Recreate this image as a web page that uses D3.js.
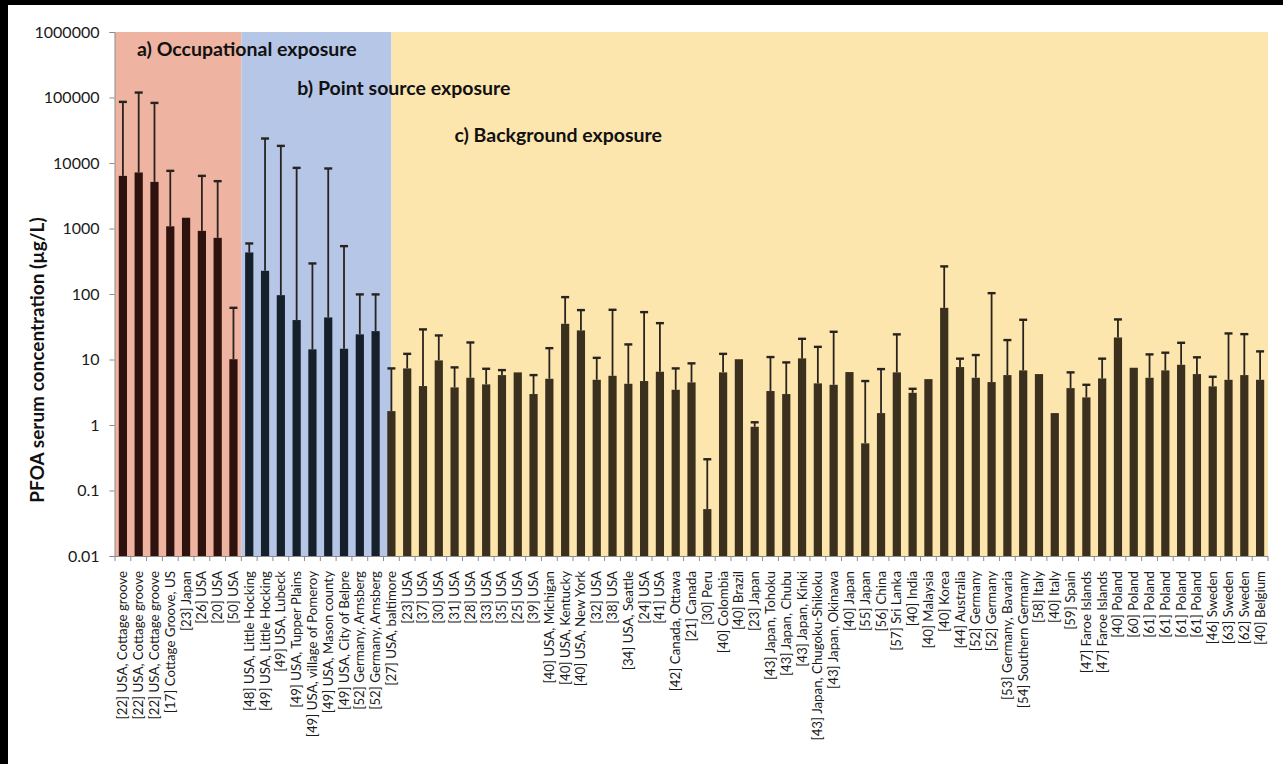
<!DOCTYPE html>
<html>
<head>
<meta charset="utf-8">
<script src="https://cdn.jsdelivr.net/npm/d3@7"></script>
<style>
  html, body { margin: 0; padding: 0; background: #ffffff; }
  svg { display: block; }
  text { font-family: Lato, "Open Sans", "DejaVu Sans", sans-serif; }
</style>
</head>
<body>
<svg id="chart" width="1283" height="764"></svg>
<script>
// ---- Study labels, grouped by exposure type ----
const occupationalLabels = [
  "[22] USA, Cottage groove", "[22] USA, Cottage groove", "[22] USA, Cottage groove",
  "[17] Cottage Groove, US", "[23] Japan", "[26] USA", "[20] USA", "[50] USA"
];
const pointSourceLabels = [
  "[48] USA, Little Hocking", "[49] USA, Little Hocking", "[49] USA, Lubeck",
  "[49] USA, Tupper Plains", "[49] USA, village of Pomeroy", "[49] USA, Mason county",
  "[49] USA, City of Belpre", "[52] Germany, Arnsberg", "[52] Germany, Arnsberg"
];
const backgroundLabels = [
  "[27] USA, baltimore", "[23] USA", "[37] USA", "[30] USA", "[31] USA", "[28] USA",
  "[33] USA", "[35] USA", "[25] USA", "[39] USA", "[40] USA, Michigan", "[40] USA, Kentucky",
  "[40] USA, New York", "[32] USA", "[38] USA", "[34] USA,  Seattle", "[24] USA", "[41] USA",
  "[42] Canada, Ottawa", "[21] Canada", "[30] Peru", "[40] Colombia", "[40] Brazil",
  "[23] Japan", "[43] Japan, Tohoku", "[43] Japan, Chubu", "[43] Japan, Kinki",
  "[43] Japan, Chugoku-Shikoku", "[43] Japan, Okinawa", "[40] Japan", "[55] Japan",
  "[56] China", "[57] Sri Lanka", "[40] India", "[40] Malaysia", "[40] Korea",
  "[44] Australia", "[52] Germany", "[52] Germany", "[53] Germany, Bavaria",
  "[54] Southern Germany", "[58] Italy", "[40] Italy", "[59] Spain",
  "[47] Faroe Islands", "[47] Faroe Islands", "[40] Poland", "[60] Poland",
  "[61] Poland", "[61] Poland", "[61] Poland", "[61] Poland", "[46] Sweden",
  "[63] Sweden", "[62] Sweden", "[40] Belgium"
];

// ---- PFOA serum concentration (µg/L): central value and upper error limit ----
const occupationalValues = [6360, 7170, 5150, 1080, 1460, 920, 720, 10.1];
const occupationalUpper  = [85700, 119000, 82700, 7590, null, 6360, 5280, 61.5];

const pointSourceValues = [431, 226, 96, 40, 14.3, 43.9, 14.6, 24.2, 27.1];
const pointSourceUpper  = [591, 23650, 18250, 8430, 293, 8250, 538, 98.6, 98.6];

const backgroundValues = [
  1.63, 7.31, 3.93, 9.69, 3.75, 5.26, 4.17, 5.78, 6.36, 2.97, 5.08, 35.1,
  27.8, 4.90, 5.64, 4.26, 4.69, 6.50, 3.45, 4.47, 0.052, 6.36, 10.1,
  0.94, 3.30, 2.97, 10.4, 4.32, 4.11, 6.43, 0.525,
  1.52, 6.36, 3.10, 5.02, 61.5,
  7.66, 5.26, 4.52, 5.78,
  6.82, 5.99, 1.52, 3.66,
  2.64, 5.14, 21.7, 7.48,
  5.26, 6.82, 8.31, 5.99, 3.89,
  4.90, 5.78, 4.90
];
const backgroundUpper = [
  7.31, 12.2, 28.8, 23.3, 7.58, 18.2, 7.22, 6.89, null, 5.78, 14.9, 89.6,
  56.8, 10.6, 57.4, 17.0, 52.9, 35.9, 7.31, 8.73, 0.30, 12.2, null,
  1.10, 10.9, 9.03, 20.7, 15.6, 26.5, null, 4.69,
  7.14, 24.2, 3.57, null, 264,
  10.3, 11.7, 103, 19.8,
  40.4, null, null, 6.36,
  4.11, 10.3, 40.9, null,
  11.97, 12.7, 18.0, 10.8, 5.45,
  25.0, 24.4, 13.3
];

// ---- Y axis ticks ----
const yTickValues = [0.01, 0.1, 1, 10, 100, 1000, 10000, 100000, 1000000];
const yTickLabels = ["0.01", "0.1", "1", "10", "100", "1000", "10000", "100000", "1000000"];

// ---- Shaded exposure regions, measured in category slots ----
const regionNames = ["a) Occupational exposure", "b) Point source exposure", "c) Background exposure"];
const regionFromSlot = [0, 8, 17.5];
const regionToSlot   = [8, 17.5, 73];

// ---- Assemble rows ----
const groupKeys = ["occupational", "pointSource", "background"];
const rows = [];
[[occupationalLabels, occupationalValues, occupationalUpper],
 [pointSourceLabels, pointSourceValues, pointSourceUpper],
 [backgroundLabels, backgroundValues, backgroundUpper]].forEach(([labels, vals, ups], g) => {
  labels.forEach((lab, i) => rows.push({
    id: rows.length, label: lab, value: vals[i], upper: ups[i], group: groupKeys[g]
  }));
});

// ---- Styling ----
const regionFill = ["#efb3a1", "#b6c6e7", "#fde6ae"];
const barFill = { occupational: "#2e120d", pointSource: "#16202b", background: "#3a301d" };

const svg = d3.select("#chart");
const W = 1283, H = 764;
const margin = { left: 115, right: 15, top: 32, bottom: 208 };
const plotBottom = H - margin.bottom; // 556

const x = d3.scaleBand()
  .domain(rows.map(d => d.id))
  .range([margin.left, W - margin.right])
  .paddingInner(0.48)
  .paddingOuter(0.24);
const step = x.step();
const slotX = s => margin.left + s * step;

const y = d3.scaleLog()
  .domain([0.01, 1000000])
  .range([plotBottom, margin.top]);

// Page frame
svg.append("rect").attr("x", 0).attr("y", 0).attr("width", W).attr("height", H).attr("fill", "#ffffff");
svg.append("rect").attr("x", 0).attr("y", 0).attr("width", W).attr("height", 5).attr("fill", "#000");
svg.append("rect").attr("x", 0).attr("y", 0).attr("width", 8).attr("height", H).attr("fill", "#000");

// Region backgrounds
svg.append("g").selectAll("rect")
  .data(regionNames)
  .join("rect")
  .attr("x", (d, i) => slotX(regionFromSlot[i]))
  .attr("width", (d, i) => slotX(regionToSlot[i]) - slotX(regionFromSlot[i]))
  .attr("y", y(1000000))
  .attr("height", y(0.01) - y(1000000))
  .attr("fill", (d, i) => regionFill[i]);

// Bars
svg.append("g").selectAll("rect")
  .data(rows)
  .join("rect")
  .attr("x", d => x(d.id))
  .attr("width", x.bandwidth())
  .attr("y", d => y(d.value))
  .attr("height", d => y(0.01) - y(d.value))
  .attr("fill", d => barFill[d.group]);

// Upper error bars
const errRows = rows.filter(d => d.upper != null);
const eg = svg.append("g").attr("stroke", "#28231e").attr("fill", "none");
eg.selectAll("line.stem")
  .data(errRows)
  .join("line")
  .attr("class", "stem")
  .attr("x1", d => x(d.id) + x.bandwidth() / 2)
  .attr("x2", d => x(d.id) + x.bandwidth() / 2)
  .attr("y1", d => y(d.value))
  .attr("y2", d => y(d.upper))
  .attr("stroke-width", 1.8);
eg.selectAll("line.cap")
  .data(errRows)
  .join("line")
  .attr("class", "cap")
  .attr("x1", d => x(d.id) + x.bandwidth() / 2 - 4)
  .attr("x2", d => x(d.id) + x.bandwidth() / 2 + 4)
  .attr("y1", d => y(d.upper))
  .attr("y2", d => y(d.upper))
  .attr("stroke-width", 2.4);

// Y axis
const yAxis = d3.axisLeft(y)
  .tickValues(yTickValues)
  .tickFormat((d, i) => yTickLabels[i])
  .tickSize(5)
  .tickPadding(10);
const yg = svg.append("g")
  .attr("transform", `translate(${margin.left - 0.5},0)`)
  .call(yAxis);
yg.select(".domain").attr("stroke", "#8c8c8c");
yg.selectAll(".tick line").attr("stroke", "#8c8c8c");
yg.selectAll(".tick text")
  .attr("fill", "#1a1a1a")
  .style("font-size", "16px");

// X axis: baseline with ticks between categories, rotated labels
const xg = svg.append("g");
xg.append("line")
  .attr("x1", margin.left - 0.5).attr("x2", slotX(rows.length))
  .attr("y1", plotBottom + 0.5).attr("y2", plotBottom + 0.5)
  .attr("stroke", "#8c8c8c");
xg.selectAll("line.tk")
  .data(d3.range(rows.length + 1))
  .join("line")
  .attr("class", "tk")
  .attr("x1", i => slotX(i)).attr("x2", i => slotX(i))
  .attr("y1", plotBottom).attr("y2", plotBottom + 5)
  .attr("stroke", "#8c8c8c");
xg.selectAll("text")
  .data(rows)
  .join("text")
  .attr("transform", d => `translate(${x(d.id) + x.bandwidth() / 2 + 4.5},${plotBottom + 15}) rotate(-90)`)
  .attr("text-anchor", "end")
  .attr("fill", "#1a1a1a")
  .style("font-size", "13.3px")
  .text(d => d.label);

// Y axis title
svg.append("text")
  .attr("transform", `translate(44,360) rotate(-90)`)
  .attr("text-anchor", "middle")
  .attr("fill", "#111")
  .style("font-size", "19px")
  .style("font-weight", "bold")
  .text("PFOA serum concentration (µg/L)");

// Region titles
const titleOffsetX = [22, 56, 63];
const titleY = [56, 95, 142];
svg.append("g").selectAll("text")
  .data(regionNames)
  .join("text")
  .attr("x", (d, i) => slotX(regionFromSlot[i]) + titleOffsetX[i])
  .attr("y", (d, i) => titleY[i])
  .attr("fill", "#111")
  .style("font-size", "19.5px")
  .style("font-weight", "bold")
  .text(d => d);
</script>
</body>
</html>
